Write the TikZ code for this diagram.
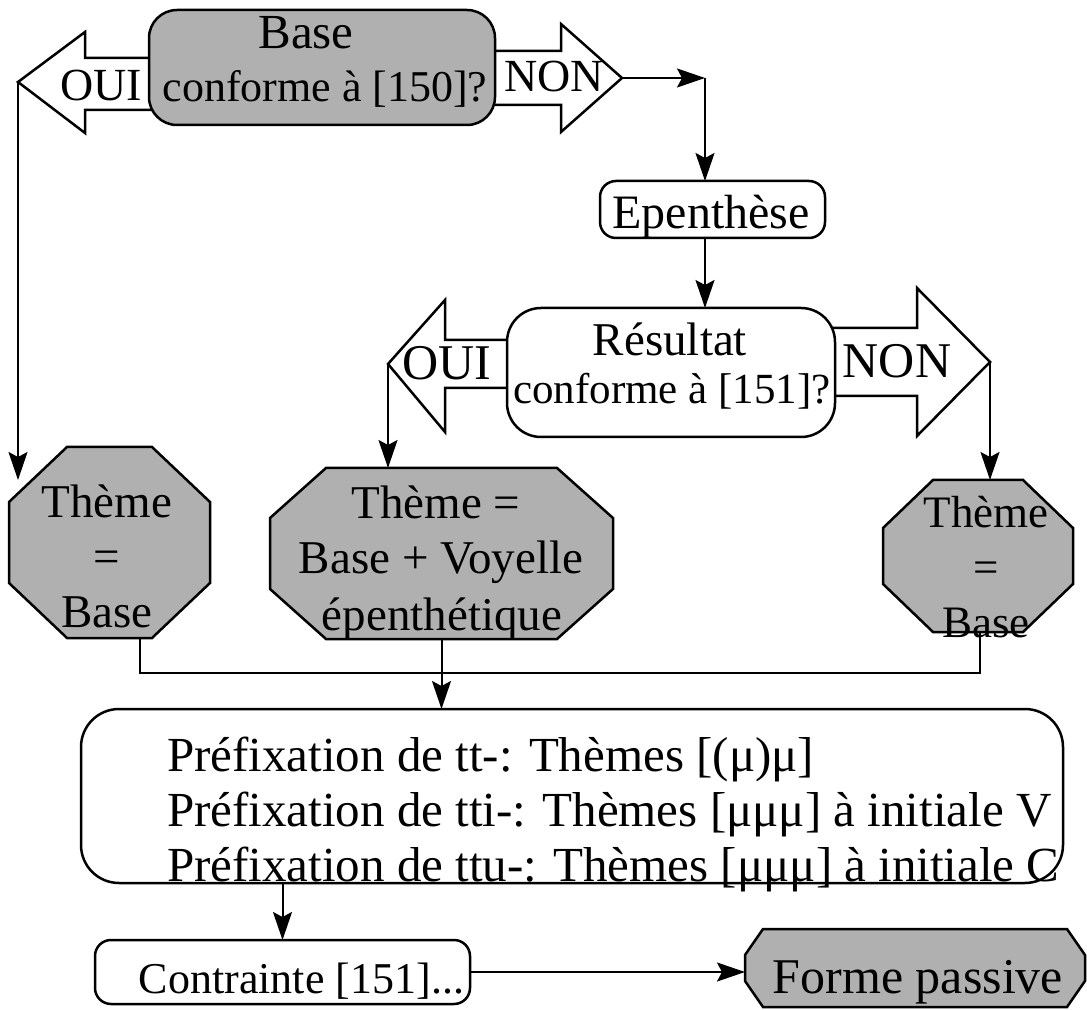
\documentclass[tikz,border=0pt]{standalone}
\usepackage{fontspec}
\setmainfont{Liberation Serif}
\usetikzlibrary{arrows.meta,calc}
\definecolor{boxgray}{gray}{0.69}

% chamfered (octagonal) box: name, centre x, centre y, half width, half height, cut x, cut y
\newcommand{\chamferbox}[7]{%
  \path[frame,fill=boxgray]
    (#2-#4+#6,#3-#5) -- (#2+#4-#6,#3-#5) -- (#2+#4,#3-#5+#7) -- (#2+#4,#3+#5-#7)
    -- (#2+#4-#6,#3+#5) -- (#2-#4+#6,#3+#5) -- (#2-#4,#3+#5-#7) -- (#2-#4,#3-#5+#7) -- cycle;
  \node[minimum width=#4pt, minimum height=#5pt] (#1) at (#2,#3) {};}

\begin{document}
\begin{tikzpicture}[x=0.5pt, y=-0.5pt,
  every node/.style={inner sep=0pt, outer sep=0pt},
  frame/.style={draw=black, line width=1.25pt, line join=miter},
  wire/.style={line width=1pt},
  flow/.style={wire, -{Stealth[length=14pt, width=9.5pt, inset=2.5pt]}},
  txt/.style={anchor=base, font=\fontsize{#1pt}{#1pt}\selectfont},
  txtw/.style={anchor=base west, font=\fontsize{#1pt}{#1pt}\selectfont},
  txte/.style={anchor=base east, font=\fontsize{#1pt}{#1pt}\selectfont}]
\useasboundingbox (0,0) rectangle (1087,1010);

% block arrows of the first test
\path[frame, fill=white] (160,58) -- (85,58) -- (85,32) -- (18,82) -- (85,133) -- (85,110) -- (160,110) -- cycle;
\path[frame, fill=white] (485,51) -- (561,51) -- (561,24) -- (622,78) -- (561,132) -- (561,105) -- (485,105) -- cycle;
\coordinate (oui1) at (18,82);
\coordinate (non1) at (622,78);

% first test
\node[frame, fill=boxgray, rounded corners=14pt, minimum width=173pt, minimum height=57.5pt] (q1) at (322,67.5) {};
\node[txt=24.5] (q1a) at (306,49) {Base};
\node[txt=22] (q1b) at (325,102) {conforme à [150]?};
\node[txt=23] (oui1t) at (101,101) {OUI};
\node[txt=23] (non1t) at (554,92) {NON};

% epenthesis step
\node[frame, fill=white, rounded corners=8pt, minimum width=112.5pt, minimum height=28.5pt] (epen) at (712.5,209.5) {};
\node[txt=24] (epent) at (711,229) {Epenthèse};

% block arrows of the second test
\path[frame, fill=white] (520,340) -- (445,340) -- (445,300) -- (388,364) -- (445,432) -- (445,388) -- (520,388) -- cycle;
\path[frame, fill=white] (820,328) -- (917,328) -- (917,288) -- (990,362) -- (917,436) -- (917,396) -- (820,396) -- cycle;
\coordinate (oui2) at (388,364);
\coordinate (non2) at (990,362);

% second test
\node[frame, fill=white, rounded corners=17pt, minimum width=164pt, minimum height=64.5pt] (res) at (671,372.5) {};
\node[txt=23.5] (resa) at (670,356) {Résultat};
\node[txt=21.5] (resb) at (672,404) {conforme à [151]?};
\node[txt=25] (oui2t) at (447,380) {OUI};
\node[txt=25] (non2t) at (897,378) {NON};

% resulting themes
\chamferbox{octL}{109.5}{542.5}{100.5}{95.5}{58}{55}
\chamferbox{octM}{441.5}{553.5}{171.5}{85.5}{56}{50}
\chamferbox{octR}{978}{556}{95}{76}{50}{48}
\node[txt=23.5] (octL1) at (107,517) {Thème};
\node[txt=23.5] (octL2) at (107,572) {=};
\node[txt=23.5] (octL3) at (107,627) {Base};
\node[txt=23.5] (octM1) at (436,518) {Thème =};
\node[txt=23.5] (octM2) at (441,574) {Base + Voyelle};
\node[txt=23.5] (octM3) at (442,630) {épenthétique};
\node[txt=22.5] (octR1) at (986,527) {Thème};
\node[txt=22.5] (octR2) at (986,582) {=};
\node[txt=22.5] (octR3) at (986,637) {Base};

% prefixation
\node[frame, fill=white, rounded corners=19pt, minimum width=491pt, minimum height=87pt] (pref) at (572,796) {};
\node[txtw=24.5] (pref1) at (167,771) {Préfixation de tt-: Thèmes [(μ)μ]};
\node[txtw=24.5] (pref2) at (167,826) {Préfixation de tti-: Thèmes [μμμ] à initiale V};
\node[txtw=24.5] (pref3) at (167,881) {Préfixation de ttu-: Thèmes [μμμ] à initiale C};

% constraint and output
\node[frame, fill=white, rounded corners=8pt, minimum width=187.5pt, minimum height=32pt] (contr) at (282.5,972) {};
\node[txte=22] (contrt) at (464,993) {Contrainte [151]...};
\chamferbox{forme}{915}{968}{170}{39}{18}{26}
\node[txt=25] (formet) at (918,993) {Forme passive};

% connectors
\coordinate (nonturn) at (705,78);
\coordinate (bus) at (443,673);
\draw[flow] (non1) -- (nonturn);
\draw[flow] (nonturn) -- (nonturn |- epen.north);
\draw[flow] (epen.south -| nonturn) -- (res.north -| nonturn);
\draw[flow] (oui1) -- ($(oui1 |- octL.north)+(0,33)$);
\draw[flow] (oui2) -- (oui2 |- octM.north);
\draw[flow] (non2) -- (non2 |- octR.north);
\draw[wire] ([xshift=15.25pt]octL.south) |- (bus) -| ([xshift=1pt]octR.south);
\draw[flow] (octM.south) -- (octM.south |- pref.north);
\draw[flow] (pref.south -| contr.north) -- (contr.north);
\draw[flow] (contr.east) -- (contr.east -| forme.west);
\end{tikzpicture}
\end{document}
